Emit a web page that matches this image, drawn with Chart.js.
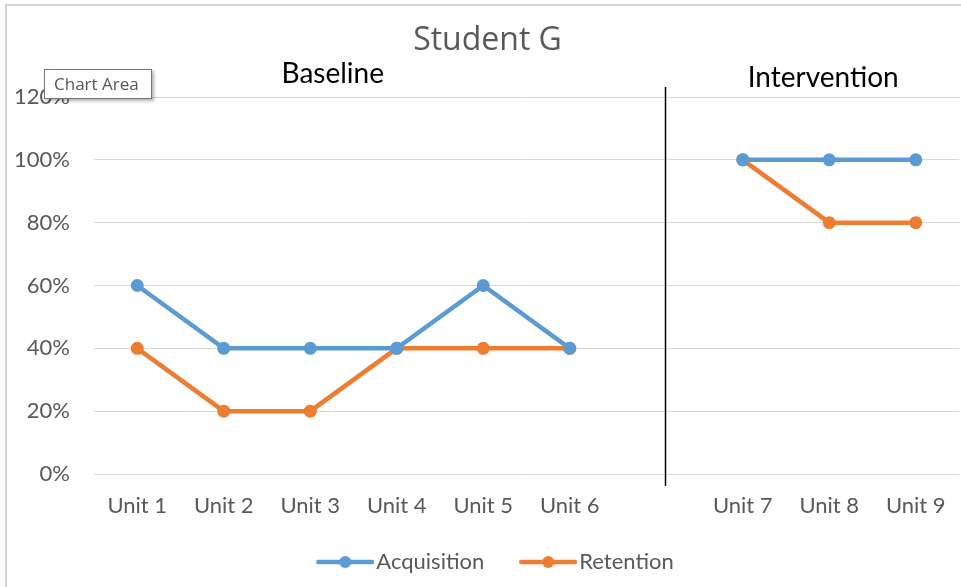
<!DOCTYPE html>
<html>
<head>
<meta charset="utf-8">
<script src="https://cdn.jsdelivr.net/npm/chart.js@4/dist/chart.umd.min.js"></script>
<style>
  html, body { margin: 0; padding: 0; background: #fff; }
  #wrap { position: relative; width: 961px; height: 587px; overflow: hidden; }
  #frame { position: absolute; left: 5px; top: 4px; width: 1000px; height: 700px;
           border-left: 2px solid #d4d4d4; border-top: 2px solid #d4d4d4; }
  #tip { position: absolute; left: 44px; top: 69px; width: 108px; height: 30px;
         background: #fff; border: 1px solid #767676; box-shadow: 2px 2px 3px rgba(0,0,0,0.3);
         font-family: "Open Sans", sans-serif; font-size: 17px; color: #575757;
         line-height: 28px; padding-left: 9px; box-sizing: border-box; white-space: nowrap; }
  canvas { position: absolute; left: 0; top: 0; }
</style>
</head>
<body>
<div id="wrap">
  <canvas id="studentChart" width="961" height="587"></canvas>
  <div id="frame"></div>
  <div id="tip">Chart Area</div>
</div>
<script>
var units = ['Unit 1', 'Unit 2', 'Unit 3', 'Unit 4', 'Unit 5', 'Unit 6', '', 'Unit 7', 'Unit 8', 'Unit 9'];
var acquisition = [0.6, 0.4, 0.4, 0.4, 0.6, 0.4, null, 1.0, 1.0, 1.0];
var retention = [0.4, 0.2, 0.2, 0.4, 0.4, 0.4, null, 1.0, 0.8, 0.8];
var phaseNames = ['Baseline', 'Intervention'];
var phaseSpots = [2.26, 7.93];   // in category units
var phaseLine = 6.1;

var blue = '#5B9BD5';
var orange = '#ED7D31';
var gray = '#595959';

// legend marker: line with a dot, like the office charts
function legendMark(color) {
    var c = document.createElement('canvas');
    c.width = 82; c.height = 14;
    var g = c.getContext('2d');
    g.strokeStyle = color;
    g.lineWidth = 4.5;
    g.lineCap = 'round';
    g.beginPath(); g.moveTo(26, 7); g.lineTo(80, 7); g.stroke();
    g.fillStyle = color;
    g.beginPath(); g.arc(53, 7, 6, 0, Math.PI * 2); g.fill();
    return c;
}

var phasePlugin = {
    id: 'phases',
    afterDraw: function(chart) {
        var x = chart.scales.x, ctx = chart.ctx, area = chart.chartArea;
        ctx.save();
        var lx = Math.round(x.getPixelForValue(phaseLine)) + 0.5;
        ctx.strokeStyle = '#000';
        ctx.lineWidth = 1.5;
        ctx.beginPath();
        ctx.moveTo(lx, area.top - 10);
        ctx.lineTo(lx, area.bottom + 12);
        ctx.stroke();
        ctx.fillStyle = '#000';
        ctx.font = '28px Lato';
        ctx.textAlign = 'center';
        ctx.textBaseline = 'middle';
        ctx.fillText(phaseNames[0], x.getPixelForValue(phaseSpots[0]), area.top - 23);
        ctx.fillText(phaseNames[1], x.getPixelForValue(phaseSpots[1]), area.top - 19);
        ctx.restore();
    }
};

new Chart(document.getElementById('studentChart'), {
    type: 'line',
    data: {
        labels: units,
        datasets: [{
            label: 'Acquisition',
            data: acquisition,
            borderColor: blue,
            backgroundColor: blue,
            borderWidth: 4.5,
            pointRadius: 6.5,
            pointBorderWidth: 0,
            pointHoverRadius: 6.5,
            tension: 0,
            spanGaps: false
        }, {
            label: 'Retention',
            data: retention,
            borderColor: orange,
            backgroundColor: orange,
            borderWidth: 4.5,
            pointRadius: 6.5,
            pointBorderWidth: 0,
            pointHoverRadius: 6.5,
            tension: 0,
            spanGaps: false
        }]
    },
    options: {
        responsive: false,
        animation: false,
        layout: { autoPadding: false, padding: { left: 16, right: 2, top: 0, bottom: 4 } },
        plugins: {
            title: {
                display: true,
                text: 'Student G',
                color: gray,
                font: { family: 'Open Sans', size: 32, weight: 'normal' },
                padding: { top: 22, bottom: 36.6 }
            },
            legend: {
                position: 'bottom',
                labels: {
                    usePointStyle: true,
                    pointStyleWidth: 64,
                    color: gray,
                    font: { family: 'Lato', size: 22 },
                    padding: 20,
                    generateLabels: function(chart) {
                        var items = Chart.defaults.plugins.legend.labels.generateLabels(chart);
                        items.forEach(function(it, i) {
                            it.pointStyle = legendMark(i === 0 ? blue : orange);
                        });
                        return items;
                    }
                }
            },
            tooltip: { enabled: false }
        },
        scales: {
            x: {
                offset: true,
                grid: { display: false, drawTicks: false, offset: true },
                border: { display: false },
                ticks: { color: gray, font: { family: 'Lato', size: 22 }, padding: 19, maxRotation: 0, autoSkip: false },
                afterFit: function(s) { s.height = 57; s.paddingRight = 0; s.paddingLeft = 0; }
            },
            y: {
                min: 0,
                max: 1.2,
                grid: { color: '#d9d9d9', drawTicks: false, lineWidth: 1 },
                border: { display: false },
                ticks: {
                    stepSize: 0.2,
                    color: gray,
                    font: { family: 'Lato', size: 22 },
                    padding: 24,
                    callback: function(v) { return Math.round(v * 100) + '%'; }
                },
                afterFit: function(s) { s.width = 78; }
            }
        }
    },
    plugins: [phasePlugin]
});
</script>
</body>
</html>
